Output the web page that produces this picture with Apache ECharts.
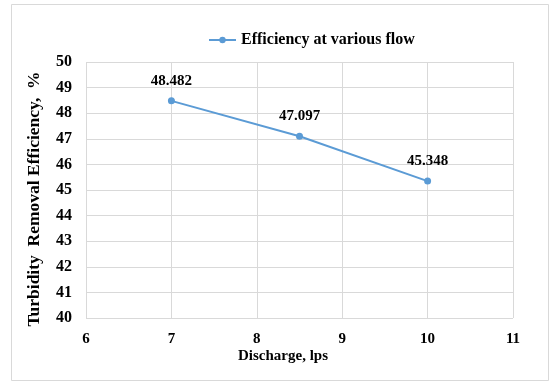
<!DOCTYPE html>
<html><head><meta charset="utf-8">
<script src="https://cdn.jsdelivr.net/npm/echarts@6/dist/echarts.min.js"></script>
<style>html,body{margin:0;padding:0;background:#fff}#c{width:551px;height:382px}</style>
</head><body><div id="c"></div>
<script>
const discharge = [7, 8.5, 10];
const efficiency = [48.482, 47.097, 45.348];
const seriesName = 'Efficiency at various flow';
const xTitle = 'Discharge, lps';
const yTitle = 'Turbidity  Removal Efficiency,  %';

const font = 'Liberation Serif';
const chart = echarts.init(document.getElementById('c'));
chart.setOption({
  animation: false,
  backgroundColor: '#fff',
  graphic: [
    {type:'rect', shape:{x:11.5,y:4.5,width:537,height:376}, style:{fill:'none',stroke:'#d9d9d9',lineWidth:1}, silent:true},
    {type:'text', x:283, y:356, style:{text:xTitle, fontFamily:font, fontWeight:'bold', fontSize:15, fill:'#000', align:'center', verticalAlign:'middle'}, silent:true},
    {type:'text', x:34, y:199, rotation:Math.PI/2, style:{text:yTitle, fontFamily:font, fontWeight:'bold', fontSize:17.5, fill:'#000', align:'center', verticalAlign:'middle'}, silent:true}
  ],
  legend: {
    top: 27, left: 203,
    itemWidth: 27, itemHeight: 8, itemGap: 4,
    textStyle: {fontFamily: font, fontWeight: 'bold', fontSize: 16, color: '#000'},
    data: [seriesName]
  },
  grid: {left: 86, right: 38, top: 62, bottom: 64},
  xAxis: {
    type: 'value', min: 6, max: 11, interval: 1,
    axisLine: {show: false}, axisTick: {show: false},
    axisLabel: {fontFamily: font, fontWeight: 'bold', fontSize: 15, color: '#000', margin: 14},
    splitLine: {show: true, lineStyle: {color: '#d9d9d9'}}
  },
  yAxis: {
    type: 'value', min: 40, max: 50, interval: 1,
    axisLine: {show: false}, axisTick: {show: false},
    axisLabel: {fontFamily: font, fontWeight: 'bold', fontSize: 16, color: '#000', margin: 14},
    splitLine: {show: true, lineStyle: {color: '#d9d9d9'}}
  },
  series: [{
    name: seriesName, type: 'line',
    data: discharge.map((x, i) => [x, efficiency[i]]),
    symbol: 'circle', symbolSize: 7,
    itemStyle: {color: '#5b9bd5'},
    lineStyle: {color: '#5b9bd5', width: 2},
    label: {show: true, position: 'top', distance: 9, fontFamily: font, fontWeight: 'bold', fontSize: 15, color: '#000',
      formatter: p => p.value[1].toFixed(3)}
  }]
});
</script></body></html>
